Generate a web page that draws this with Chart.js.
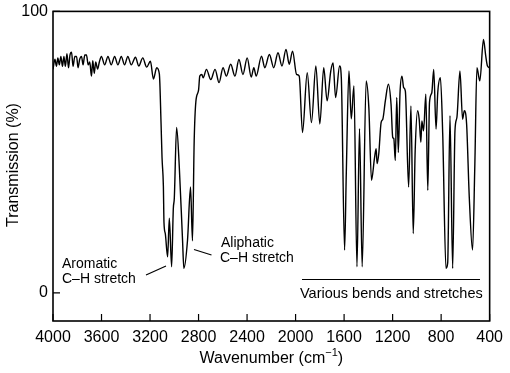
<!DOCTYPE html>
<html>
<head>
<meta charset="utf-8">
<script src="https://cdn.jsdelivr.net/npm/chart.js@4/dist/chart.umd.min.js"></script>
<style>
  html, body { margin: 0; padding: 0; background: #fff; }
  #wrap { width: 510px; height: 373px; }
</style>
</head>
<body>
<div id="wrap"><canvas id="ir"></canvas></div>
<script>
// wavenumber (cm-1) from left to right
const wavenumber = [
    4000, 3984, 3972, 3960, 3948, 3935, 3922, 3910, 3898, 3885,
    3872, 3860, 3847, 3835, 3820, 3806, 3793, 3780, 3765, 3752,
    3738, 3724, 3710, 3697, 3683, 3672, 3660, 3648, 3632, 3618,
    3601, 3574, 3547, 3520, 3492, 3465, 3437, 3410, 3383, 3355,
    3320, 3293, 3260, 3228, 3197, 3172, 3145, 3123, 3109, 3101,
    3090, 3085, 3074, 3055, 3041, 3022, 3008, 3000, 2981, 2959,
    2932, 2921, 2891, 2866, 2850, 2836, 2822, 2800, 2790, 2773,
    2762, 2735, 2699, 2664, 2631, 2598, 2571, 2535, 2500, 2467,
    2434, 2399, 2366, 2344, 2325, 2281, 2254, 2216, 2180, 2145,
    2112, 2079, 2052, 2025, 1992, 1970, 1943, 1904, 1869, 1833,
    1800, 1768, 1740, 1710, 1691, 1670, 1637, 1623, 1596, 1582,
    1560, 1541, 1519, 1494, 1473, 1451, 1418, 1396, 1374, 1350,
    1336, 1328, 1314, 1295, 1281, 1260, 1235, 1213, 1199, 1190,
    1178, 1166, 1153, 1139, 1123, 1109, 1095, 1068, 1049, 1030,
    1014, 994, 981, 967, 959, 945, 926, 910, 896, 877,
    861, 842, 828, 806, 787, 760, 746, 727, 705, 686,
    670, 645, 623, 609, 590, 568, 541, 522, 505, 481,
    451, 432, 418, 400
];
// transmission (%)
const transmission = [
    79.4, 83, 80.5, 83.5, 81, 84, 80.5, 84, 80.5, 85,
    80, 84.5, 85.5, 80.5, 84, 84, 80, 83, 84, 81,
    84.5, 84.5, 81, 82, 77, 82.5, 78, 82, 79.5, 82,
    84, 81, 84, 81, 84, 81, 84, 81, 84, 81,
    83.7, 80.6, 83.5, 80.2, 82.3, 76, 80, 77.7, 60, 48,
    38, 25, 21, 12.8, 26.5, 9.3, 30, 33.5, 58.8, 45,
    18.7, 8.7, 18.7, 37.6, 18.5, 54, 68, 72, 77, 77.6,
    76.4, 79.4, 75.8, 79.4, 74.7, 80, 77, 81.2, 77, 82.9,
    77.6, 83.5, 76.7, 80, 77, 84.1, 80, 84.7, 80, 85.3,
    80.6, 86.5, 81.2, 85.9, 77.6, 77, 57, 78.2, 60.5, 80.6,
    60, 80, 68.2, 78.8, 81.7, 69.4, 80.6, 76.4, 15.2, 42.4,
    78.8, 61.8, 73.5, 9.3, 58.3, 9.3, 75.3, 65.8, 40, 47.7,
    51.2, 45.9, 49.5, 60.5, 61.7, 68.2, 74.1, 67, 55.2, 54.8,
    47, 69.4, 49.9, 71.1, 77, 72.9, 71.7, 37.6, 66.4, 21.1,
    50.5, 64.7, 61.7, 53.5, 61.1, 57.6, 70.6, 36.4, 67.6, 71.1,
    79.4, 58.2, 71.1, 76.4, 56.5, 8.7, 10.6, 62.9, 8.7, 57.6,
    62.3, 78.8, 61.7, 64.7, 60, 34, 15.2, 45.8, 80, 75.3,
    90, 84.1, 80.6, 80
];

const xTicks = [4000, 3600, 3200, 2800, 2400, 2000, 1600, 1200, 800, 400];
const yTicks = [0, 100];

const FONT = '"Liberation Sans", Arial, Helvetica, sans-serif';

// frame, inward ticks, axis titles and band labels
const decorations = {
    id: 'decorations',
    afterDraw(chart) {
        const { ctx, chartArea: a, scales } = chart;
        ctx.save();
        ctx.strokeStyle = '#000';
        ctx.fillStyle = '#000';

        ctx.lineWidth = 1.6;
        ctx.strokeRect(a.left, a.top, a.right - a.left, a.bottom - a.top);

        ctx.lineWidth = 1.2;
        ctx.beginPath();
        xTicks.forEach(v => {
            const px = scales.x.getPixelForValue(v);
            ctx.moveTo(px, a.bottom);
            ctx.lineTo(px, a.bottom - 7);
        });
        yTicks.forEach(v => {
            const py = scales.y.getPixelForValue(v);
            ctx.moveTo(a.left, py);
            ctx.lineTo(a.left + 7, py);
        });
        ctx.stroke();

        // x title with superscript
        const cx = (a.left + a.right) / 2;
        const main = 'Wavenumber (cm';
        const sup = '\u22121';
        ctx.font = '16px ' + FONT;
        const w1 = ctx.measureText(main).width;
        const w3 = ctx.measureText(')').width;
        ctx.font = '11px ' + FONT;
        const w2 = ctx.measureText(sup).width;
        let x0 = cx - (w1 + w2 + w3) / 2;
        ctx.textBaseline = 'alphabetic';
        ctx.textAlign = 'left';
        ctx.font = '16px ' + FONT;
        ctx.fillText(main, x0, 363);
        ctx.font = '11px ' + FONT;
        ctx.fillText(sup, x0 + w1, 356);
        ctx.font = '16px ' + FONT;
        ctx.fillText(')', x0 + w1 + w2, 363);

        // y title
        ctx.save();
        ctx.translate(14, 165);
        ctx.rotate(-Math.PI / 2);
        ctx.textAlign = 'center';
        ctx.textBaseline = 'middle';
        ctx.font = '16px ' + FONT;
        ctx.fillText('Transmission (%)', 0, 0);
        ctx.restore();

        // band labels
        ctx.font = '14px ' + FONT;
        ctx.textAlign = 'left';
        ctx.textBaseline = 'middle';
        ctx.fillText('Aromatic', 62, 264);
        ctx.fillText('C\u2013H stretch', 62, 279);
        ctx.fillText('Aliphatic', 221, 243);
        ctx.fillText('C\u2013H stretch', 220, 258);
        ctx.font = '14.5px ' + FONT;
        ctx.fillText('Various bends and stretches', 300, 294);

        ctx.lineWidth = 1.2;
        ctx.beginPath();
        ctx.moveTo(146, 275);
        ctx.lineTo(166, 266);
        ctx.moveTo(194, 249.5);
        ctx.lineTo(211.5, 255);
        ctx.moveTo(302, 279.5);
        ctx.lineTo(480, 279.5);
        ctx.stroke();

        ctx.restore();
    }
};

const points = wavenumber.map((w, i) => ({ x: w, y: transmission[i] }));

new Chart(document.getElementById('ir'), {
    type: 'line',
    data: {
        datasets: [{
            data: points,
            borderColor: '#000',
            borderWidth: 1.4,
            pointRadius: 0,
            fill: false,
            cubicInterpolationMode: 'monotone'
        }]
    },
    options: {
        responsive: true,
        maintainAspectRatio: false,
        animation: false,
        layout: { padding: { top: 10, right: 18, left: 0, bottom: 0 } },
        plugins: { legend: { display: false }, tooltip: { enabled: false } },
        scales: {
            x: {
                type: 'linear',
                min: 400,
                max: 4000,
                reverse: true,
                afterBuildTicks: s => { s.ticks = xTicks.map(v => ({ value: v })); },
                afterFit: s => { s.height = 52; },
                grid: { display: false, drawTicks: false },
                border: { display: false },
                ticks: {
                    color: '#000', padding: 7, maxRotation: 0,
                    font: { size: 16, family: FONT },
                    callback: v => String(v)
                }
            },
            y: {
                min: -10,
                max: 100,
                afterBuildTicks: s => { s.ticks = yTicks.map(v => ({ value: v })); },
                afterFit: s => { s.width = 53; },
                grid: { display: false, drawTicks: false },
                border: { display: false },
                ticks: {
                    color: '#000', padding: 5,
                    font: { size: 16, family: FONT, lineHeight: 0.8 },
                    callback: v => String(v)
                }
            }
        }
    },
    plugins: [decorations]
});
</script>
</body>
</html>
